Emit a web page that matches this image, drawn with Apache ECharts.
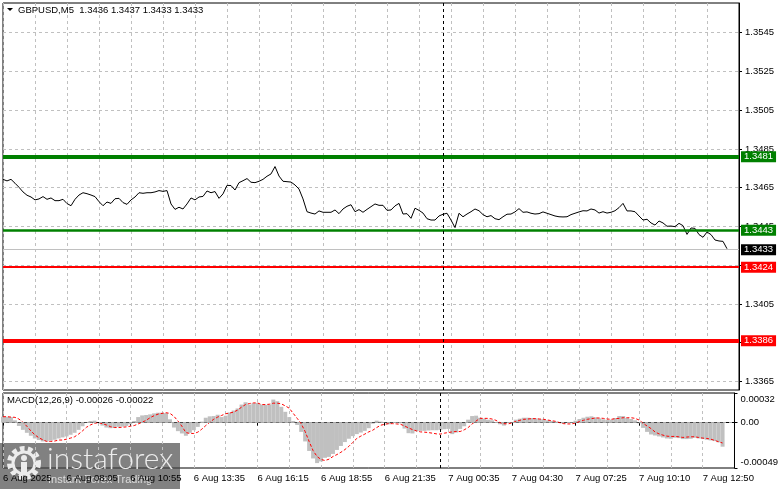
<!DOCTYPE html>
<html>
<head>
<meta charset="utf-8">
<style>html,body{margin:0;padding:0;background:#fff;}#c{width:781px;height:489px;}</style>
<script src="https://cdn.jsdelivr.net/npm/echarts@6.0.0/dist/echarts.min.js"></script>
</head>
<body>
<div id="c"></div>
<script>
const timeTicks = ['6 Aug 2025','6 Aug 08:05','6 Aug 10:55','6 Aug 13:35','6 Aug 16:15','6 Aug 18:55','6 Aug 21:35','7 Aug 00:35','7 Aug 04:30','7 Aug 07:25','7 Aug 10:10','7 Aug 12:50'];
const slotCount = 185;
const sessionMarkerIndex = 110;

const closePrices = [
1.34693,1.34685,1.34693,1.34673,1.34652,1.34628,1.34611,1.34602,1.34587,1.34592,
1.34604,1.34590,1.34597,1.34583,1.34583,1.34590,1.34568,1.34557,1.34590,1.34612,
1.34624,1.34619,1.34612,1.34604,1.34578,1.34557,1.34576,1.34569,1.34593,1.34595,
1.34573,1.34564,1.34587,1.34602,1.34624,1.34621,1.34624,1.34624,1.34628,1.34635,
1.34631,1.34635,1.34566,1.34538,1.34549,1.34540,1.34566,1.34597,1.34587,1.34602,
1.34605,1.34633,1.34624,1.34630,1.34595,1.34618,1.34662,1.34661,1.34638,1.34676,
1.34686,1.34697,1.34678,1.34676,1.34683,1.34693,1.34709,1.34721,1.34759,1.34710,
1.34683,1.34681,1.34679,1.34664,1.34643,1.34592,1.34526,1.34519,1.34514,1.34530,
1.34523,1.34523,1.34523,1.34535,1.34516,1.34540,1.34554,1.34562,1.34526,1.34537,
1.34523,1.34538,1.34552,1.34566,1.34559,1.34559,1.34533,1.34535,1.34556,1.34569,
1.34514,1.34516,1.34492,1.34544,1.34533,1.34519,1.34490,1.34483,1.34483,1.34504,
1.34513,1.34518,1.34483,1.34444,1.34518,1.34500,1.34514,1.34526,1.34540,1.34531,
1.34511,1.34500,1.34506,1.34490,1.34485,1.34500,1.34513,1.34514,1.34525,1.34542,
1.34523,1.34525,1.34518,1.34514,1.34516,1.34525,1.34518,1.34511,1.34504,1.34500,
1.34499,1.34500,1.34511,1.34518,1.34525,1.34531,1.34530,1.34540,1.34535,1.34519,
1.34526,1.34519,1.34523,1.34531,1.34547,1.34569,1.34530,1.34530,1.34526,1.34504,
1.34483,1.34487,1.34468,1.34457,1.34478,1.34468,1.34451,1.34452,1.34449,1.34466,
1.34454,1.34409,1.34442,1.34440,1.34408,1.34394,1.34421,1.34408,1.34380,1.34375,
1.34373,1.34335];

const macdHist = [
0.000064,0.000064,0.000060,0.000025,-0.000036,-0.000078,-0.000110,-0.000142,-0.000171,-0.000188,
-0.000203,-0.000203,-0.000195,-0.000185,-0.000171,-0.000160,-0.000149,-0.000131,-0.000110,-0.000078,
-0.000039,-0.000004,0.000018,0.000021,0.000000,-0.000032,-0.000053,-0.000060,-0.000057,-0.000046,
-0.000043,-0.000036,-0.000018,0.000018,0.000060,0.000078,0.000082,0.000089,0.000100,0.000107,
0.000107,0.000103,0.000036,-0.000053,-0.000092,-0.000117,-0.000142,-0.000110,-0.000082,-0.000046,
0.000011,0.000053,0.000068,0.000071,0.000085,0.000060,0.000075,0.000110,0.000131,0.000153,
0.000195,0.000220,0.000195,0.000210,0.000213,0.000195,0.000192,0.000195,0.000249,0.000231,
0.000171,0.000117,0.000060,0.000018,-0.000025,-0.000100,-0.000203,-0.000306,-0.000387,-0.000437,
-0.000419,-0.000380,-0.000370,-0.000338,-0.000295,-0.000252,-0.000210,-0.000174,-0.000146,-0.000124,
-0.000107,-0.000089,-0.000060,-0.000011,0.000021,0.000011,-0.000004,-0.000018,-0.000004,0.000007,
-0.000007,-0.000064,-0.000114,-0.000117,-0.000092,-0.000089,-0.000089,-0.000085,-0.000082,-0.000082,
-0.000078,-0.000071,-0.000068,-0.000124,-0.000107,-0.000068,-0.000039,0.000032,0.000071,0.000075,
0.000053,0.000043,0.000032,0.000025,0.000007,-0.000018,-0.000032,-0.000004,0.000007,0.000032,
0.000043,0.000053,0.000053,0.000050,0.000046,0.000039,0.000036,0.000025,0.000018,0.000011,
0.000000,-0.000011,-0.000004,0.000007,0.000021,0.000039,0.000053,0.000064,0.000068,0.000057,
0.000046,0.000036,0.000028,0.000032,0.000050,0.000071,0.000071,0.000050,0.000039,0.000025,
-0.000007,-0.000057,-0.000100,-0.000128,-0.000139,-0.000149,-0.000160,-0.000171,-0.000174,-0.000163,
-0.000167,-0.000178,-0.000178,-0.000174,-0.000163,-0.000171,-0.000178,-0.000185,-0.000192,-0.000199,
-0.000213,-0.000260];

const macdSignal = [
0.000064,0.000064,0.000060,0.000057,0.000039,0.000004,-0.000039,-0.000089,-0.000131,-0.000163,
-0.000185,-0.000203,-0.000203,-0.000199,-0.000188,-0.000188,-0.000178,-0.000167,-0.000153,-0.000124,
-0.000089,-0.000050,-0.000025,-0.000007,0.000000,-0.000011,-0.000025,-0.000043,-0.000053,-0.000053,
-0.000050,-0.000046,-0.000039,-0.000032,-0.000014,0.000004,0.000025,0.000053,0.000075,0.000092,
0.000100,0.000107,0.000100,0.000068,0.000018,-0.000039,-0.000107,-0.000117,-0.000117,-0.000103,
-0.000071,-0.000032,0.000004,0.000036,0.000060,0.000078,0.000096,0.000103,0.000114,0.000135,
0.000167,0.000195,0.000206,0.000213,0.000213,0.000195,0.000195,0.000199,0.000210,0.000210,
0.000203,0.000181,0.000156,0.000100,0.000046,-0.000011,-0.000096,-0.000203,-0.000302,-0.000366,
-0.000398,-0.000409,-0.000395,-0.000366,-0.000345,-0.000320,-0.000291,-0.000256,-0.000213,-0.000171,
-0.000146,-0.000124,-0.000100,-0.000082,-0.000053,-0.000028,-0.000018,-0.000011,-0.000011,-0.000014,
-0.000018,-0.000036,-0.000057,-0.000075,-0.000089,-0.000100,-0.000103,-0.000107,-0.000114,-0.000121,
-0.000124,-0.000114,-0.000107,-0.000100,-0.000096,-0.000096,-0.000078,-0.000053,-0.000014,0.000018,
0.000046,0.000046,0.000046,0.000039,0.000025,0.000000,-0.000011,-0.000014,-0.000004,0.000014,
0.000025,0.000036,0.000039,0.000043,0.000043,0.000039,0.000036,0.000028,0.000021,0.000014,
0.000000,-0.000011,-0.000014,-0.000014,-0.000004,0.000011,0.000025,0.000036,0.000043,0.000050,
0.000050,0.000046,0.000039,0.000036,0.000043,0.000046,0.000053,0.000053,0.000053,0.000046,
0.000028,-0.000007,-0.000036,-0.000064,-0.000100,-0.000121,-0.000135,-0.000146,-0.000149,-0.000149,
-0.000153,-0.000160,-0.000156,-0.000153,-0.000153,-0.000160,-0.000167,-0.000171,-0.000178,-0.000192,
-0.000206,-0.000220];

const priceTicks = [1.3365,1.3385,1.3405,1.3425,1.3445,1.3465,1.3485,1.3505,1.3525,1.3545];
const macdTicks = [-0.00049,0,0.00032];
const resistanceLevels = [1.3481,1.3443];
const supportLevels = [1.3424,1.3386];
const lastPrice = 1.3433;
const titleText = 'GBPUSD,M5  1.3436 1.3437 1.3433 1.3433';
const macdTitle = 'MACD(12,26,9) -0.00026 -0.00022';

const FONT = '"Liberation Sans", Arial, sans-serif';
const categories = Array.from({length: slotCount}, (_, i) => i % 16 === 0 ? timeTicks[i / 16] : '');

function levelLine(value, color, width) {
  return {
    yAxis: value,
    lineStyle: {color: color, width: width, type: 'solid'},
    label: {show: true, position: 'end', distance: 2, formatter: value.toFixed(4),
      color: '#fff', backgroundColor: color, padding: [1, 3, 0, 3],
      fontSize: 9.5, fontFamily: FONT}
  };
}

const chart = echarts.init(document.getElementById('c'), null, {renderer: 'canvas'});
const gridLine = {show: true, lineStyle: {color: '#c0c0c0', width: 1, type: [3, 3]}};

chart.setOption({
  animation: false,
  backgroundColor: '#fff',
  textStyle: {fontFamily: FONT},
  grid: [
    {left: 3, top: 3, width: 736, height: 387, show: true, borderColor: '#000', borderWidth: 1, backgroundColor: 'transparent'},
    {left: 3, top: 393, width: 736, height: 75, show: true, borderColor: '#000', borderWidth: 1, backgroundColor: 'transparent'}
  ],
  xAxis: [
    {type: 'category', gridIndex: 0, data: categories, boundaryGap: false,
      axisLine: {show: false}, axisTick: {show: false}, axisLabel: {show: false},
      splitLine: Object.assign({interval: (i) => i % 8 === 0}, gridLine)},
    {type: 'category', gridIndex: 1, data: categories, boundaryGap: false,
      axisLine: {show: true, lineStyle: {color: '#000'}},
      axisTick: {show: true, interval: (i) => i % 16 === 0, length: 3, lineStyle: {color: '#000'}},
      axisLabel: {show: true, interval: (i) => i % 16 === 0, align: 'left', margin: 5,
        color: '#000', fontSize: 9.5, fontFamily: FONT},
      splitLine: Object.assign({interval: (i) => i % 8 === 0}, gridLine)}
  ],
  yAxis: [
    {type: 'value', gridIndex: 0, position: 'right', min: 1.33606, max: 1.35603, scale: true,
      axisLine: {show: true, lineStyle: {color: '#000'}},
      axisTick: {show: true, customValues: priceTicks, length: 3, lineStyle: {color: '#000'}},
      axisLabel: {show: true, customValues: priceTicks, formatter: (v) => v.toFixed(4), margin: 6,
        color: '#000', fontSize: 9.5, fontFamily: FONT},
      splitLine: gridLine},
    {type: 'value', gridIndex: 1, position: 'right', min: -0.00049, max: 0.00032,
      axisLine: {show: true, lineStyle: {color: '#000'}},
      axisTick: {show: true, customValues: macdTicks, length: 3, lineStyle: {color: '#000'}},
      axisLabel: {show: true, customValues: macdTicks, showMinLabel: true, showMaxLabel: true, margin: 6,
        color: '#000', fontSize: 9.5, fontFamily: FONT,
        formatter: (v) => v === 0 ? '0.00' : (v > 0 ? '{top|' + v.toFixed(5) + '}' : '{bot|' + v.toFixed(5) + '}'),
        rich: {top: {padding: [13, 0, 0, 0], fontSize: 9.5, fontFamily: FONT, color: '#000'},
               bot: {padding: [0, 0, 12, 0], fontSize: 9.5, fontFamily: FONT, color: '#000'}}},
      splitLine: {show: false}}
  ],
  series: [
    {name: 'GBPUSD', type: 'line', xAxisIndex: 0, yAxisIndex: 0, data: closePrices,
      symbol: 'none', lineStyle: {color: '#000', width: 1}, z: 3,
      markLine: {silent: true, symbol: 'none', animation: false, precision: 6,
        data: [
          {yAxis: lastPrice, lineStyle: {color: '#c0c0c0', width: 1, type: 'solid'},
            label: {show: true, position: 'end', distance: 2, formatter: lastPrice.toFixed(4),
              color: '#fff', backgroundColor: '#000', padding: [1, 3, 0, 3], fontSize: 9.5, fontFamily: FONT}},
          levelLine(resistanceLevels[0], '#008000', 4),
          levelLine(resistanceLevels[1], '#008000', 2.5),
          levelLine(supportLevels[0], '#ff0000', 2),
          levelLine(supportLevels[1], '#ff0000', 4),
          {xAxis: sessionMarkerIndex, lineStyle: {color: '#000', width: 1, type: [3, 3]}, label: {show: false}}
        ]}},
    {name: 'MACD', type: 'bar', xAxisIndex: 1, yAxisIndex: 1, data: macdHist,
      barWidth: '100%', barCategoryGap: 0, itemStyle: {color: '#c0c0c0'},
      markLine: {silent: true, symbol: 'none', animation: false, precision: 6,
        data: [
          {yAxis: 0, lineStyle: {color: '#a8a8a8', width: 1, type: [3, 3]}, label: {show: false}},
          {xAxis: sessionMarkerIndex, lineStyle: {color: '#000', width: 1, type: [3, 3]}, label: {show: false}}
        ]}},
    {name: 'Signal', type: 'line', xAxisIndex: 1, yAxisIndex: 1, data: macdSignal,
      symbol: 'none', lineStyle: {color: '#ff0000', width: 1, type: [3, 2]}, z: 4}
  ],
  graphic: [
    {type: 'polygon', shape: {points: [[7, 8], [13, 8], [10, 11]]}, style: {fill: '#000'}, z: 10},
    {type: 'text', left: 18, top: 5, z: 10,
      style: {text: titleText, fill: '#000', fontSize: 9.5, fontFamily: FONT}},
    {type: 'text', left: 7, top: 395, z: 10,
      style: {text: macdTitle, fill: '#000', fontSize: 9.5, fontFamily: FONT}},
    {type: 'group', z: 20, children: [
      {type: 'rect', shape: {x: 0, y: 443, width: 180, height: 46}, style: {fill: 'rgba(70,70,70,0.68)'}},
      {type: 'circle', shape: {cx: 24, cy: 463, r: 14}, style: {fill: 'none', stroke: '#ececec', lineWidth: 6, lineDash: [4.5, 3.2]}},
      {type: 'circle', shape: {cx: 24, cy: 463, r: 11}, style: {fill: 'none', stroke: '#ececec', lineWidth: 3}},
      {type: 'circle', shape: {cx: 24, cy: 458, r: 3}, style: {fill: '#ececec'}},
      {type: 'rect', shape: {x: 21, y: 462, width: 6, height: 12}, style: {fill: '#ececec'}},
      {type: 'text', x: 47, y: 444, style: {text: 'instaforex', fill: '#ececec', fontSize: 30, fontWeight: 300, fontFamily: 'Lato, "Open Sans", sans-serif'}},
      {type: 'text', x: 48, y: 474, style: {text: 'Instant Forex Trading', fill: '#dcdcdc', fontSize: 11, fontFamily: FONT}}
    ]}
  ]
});
</script>
</body>
</html>
